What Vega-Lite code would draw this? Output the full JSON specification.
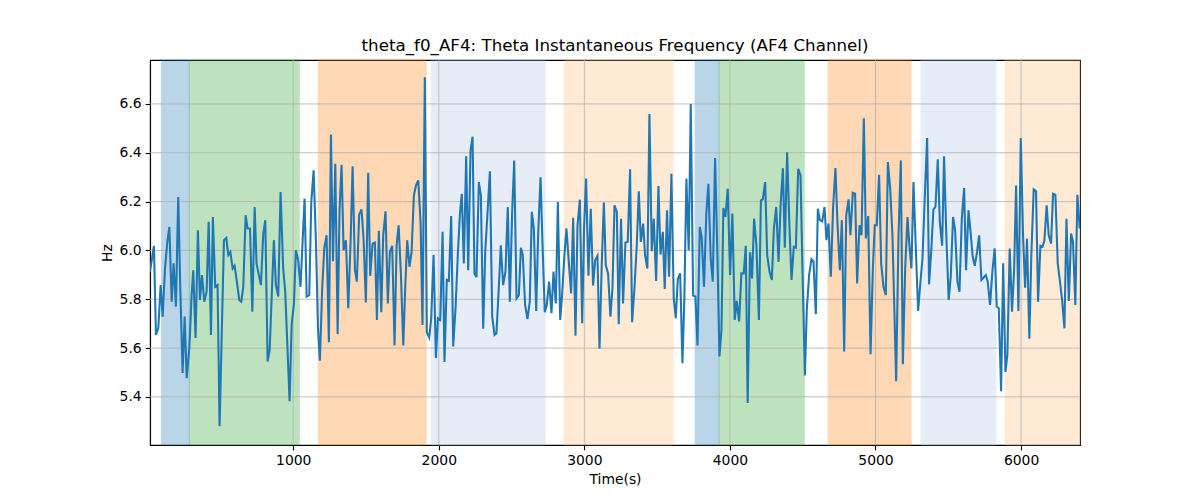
{
  "$schema": "https://vega.github.io/schema/vega-lite/v6.json",
  "width": 930,
  "height": 385,
  "autosize": {"type": "none"},
  "padding": {"left": 150, "top": 60, "right": 120, "bottom": 55},
  "background": "white",
  "title": {"text": "theta_f0_AF4: Theta Instantaneous Frequency (AF4 Channel)", "font": "DejaVu Sans", "fontSize": 16.7, "fontWeight": "normal", "color": "black", "offset": -8, "baseline": "alphabetic"},
  "datasets": {
    "spans": [
      {"start": 94, "end": 286, "kind": "blue"},
      {"start": 286, "end": 1041, "kind": "green"},
      {"start": 1172, "end": 1913, "kind": "orange"},
      {"start": 1948, "end": 2731, "kind": "lightblue"},
      {"start": 2861, "end": 3610, "kind": "lightorange"},
      {"start": 3761, "end": 3926, "kind": "blue"},
      {"start": 3926, "end": 4510, "kind": "green"},
      {"start": 4674, "end": 5244, "kind": "orange"},
      {"start": 5313, "end": 5828, "kind": "lightblue"},
      {"start": 5890, "end": 6405, "kind": "lightorange"}
    ],
    "xticks": [{"t": 1000}, {"t": 2000}, {"t": 3000}, {"t": 4000}, {"t": 5000}, {"t": 6000}],
    "yticks": [{"v": 5.4}, {"v": 5.6}, {"v": 5.8}, {"v": 6.0}, {"v": 6.2}, {"v": 6.4}, {"v": 6.6}],
    "series": [
      {"t":16,"v":5.913},{"t":43,"v":6.019},{"t":57,"v":5.654},{"t":73,"v":5.681},{"t":89,"v":5.858},{"t":103,"v":5.729},{"t":119,"v":5.926},{"t":135,"v":6.035},{"t":149,"v":6.096},{"t":165,"v":5.790},{"t":178,"v":5.947},{"t":194,"v":5.770},{"t":210,"v":6.219},{"t":224,"v":5.845},{"t":240,"v":5.498},{"t":254,"v":5.729},{"t":268,"v":5.477},{"t":286,"v":5.600},{"t":302,"v":5.817},{"t":313,"v":5.919},{"t":329,"v":5.641},{"t":345,"v":6.083},{"t":359,"v":5.797},{"t":373,"v":5.899},{"t":389,"v":5.790},{"t":405,"v":5.831},{"t":419,"v":6.117},{"t":435,"v":5.654},{"t":448,"v":6.137},{"t":464,"v":5.851},{"t":480,"v":5.858},{"t":494,"v":5.280},{"t":524,"v":6.042},{"t":540,"v":6.051},{"t":554,"v":5.981},{"t":568,"v":5.994},{"t":584,"v":5.926},{"t":597,"v":5.937},{"t":613,"v":5.872},{"t":629,"v":5.797},{"t":643,"v":5.790},{"t":657,"v":5.851},{"t":673,"v":6.144},{"t":686,"v":6.090},{"t":703,"v":6.090},{"t":719,"v":5.749},{"t":735,"v":6.178},{"t":748,"v":5.947},{"t":764,"v":5.899},{"t":778,"v":5.858},{"t":794,"v":6.069},{"t":808,"v":6.124},{"t":824,"v":5.545},{"t":838,"v":5.593},{"t":867,"v":6.042},{"t":881,"v":5.858},{"t":897,"v":5.811},{"t":913,"v":6.239},{"t":931,"v":5.926},{"t":945,"v":5.831},{"t":975,"v":5.382},{"t":989,"v":5.695},{"t":1005,"v":5.783},{"t":1018,"v":6.001},{"t":1034,"v":5.960},{"t":1050,"v":5.851},{"t":1078,"v":6.212},{"t":1092,"v":5.811},{"t":1110,"v":5.817},
      {"t":1124,"v":6.198},{"t":1140,"v":6.328},{"t":1156,"v":6.035},{"t":1170,"v":5.681},{"t":1183,"v":5.548},{"t":1199,"v":5.845},{"t":1213,"v":6.008},{"t":1229,"v":6.062},{"t":1245,"v":5.624},{"t":1259,"v":6.475},{"t":1273,"v":5.956},{"t":1289,"v":6.355},{"t":1305,"v":5.657},{"t":1318,"v":6.164},{"t":1332,"v":6.351},{"t":1346,"v":6.001},{"t":1362,"v":6.042},{"t":1378,"v":5.763},{"t":1394,"v":6.035},{"t":1408,"v":6.345},{"t":1424,"v":5.919},{"t":1437,"v":5.872},{"t":1453,"v":6.147},{"t":1469,"v":6.168},{"t":1483,"v":6.049},{"t":1499,"v":5.787},{"t":1515,"v":6.318},{"t":1529,"v":5.896},{"t":1545,"v":6.028},{"t":1561,"v":6.032},{"t":1575,"v":5.715},{"t":1588,"v":6.080},{"t":1605,"v":5.747},{"t":1618,"v":6.062},{"t":1634,"v":6.160},{"t":1650,"v":5.783},{"t":1664,"v":5.994},{"t":1680,"v":6.019},{"t":1696,"v":5.611},{"t":1710,"v":6.021},{"t":1724,"v":6.103},{"t":1740,"v":5.899},{"t":1756,"v":5.611},{"t":1769,"v":5.845},{"t":1783,"v":6.042},{"t":1799,"v":5.933},{"t":1813,"v":5.994},{"t":1829,"v":6.226},{"t":1843,"v":6.266},{"t":1859,"v":6.287},{"t":1875,"v":6.110},{"t":1888,"v":5.695},{"t":1904,"v":6.709},{"t":1918,"v":5.665},{"t":1934,"v":5.643},{"t":1948,"v":5.722},{"t":1964,"v":5.981},{"t":1980,"v":5.559},{"t":1994,"v":5.722},{"t":2010,"v":5.715},{"t":2026,"v":6.076},{"t":2039,"v":5.543},{"t":2055,"v":5.879},{"t":2069,"v":5.875},{"t":2085,"v":6.141},{"t":2099,"v":5.607},
      {"t":2115,"v":5.763},{"t":2131,"v":5.987},{"t":2145,"v":6.147},{"t":2158,"v":6.232},{"t":2172,"v":5.947},{"t":2188,"v":6.386},{"t":2202,"v":5.919},{"t":2218,"v":6.409},{"t":2232,"v":6.466},{"t":2245,"v":5.906},{"t":2259,"v":5.890},{"t":2275,"v":6.280},{"t":2289,"v":6.226},{"t":2305,"v":5.679},{"t":2319,"v":5.994},{"t":2335,"v":6.158},{"t":2351,"v":6.324},{"t":2367,"v":5.729},{"t":2383,"v":5.654},{"t":2396,"v":5.661},{"t":2412,"v":5.845},{"t":2426,"v":6.021},{"t":2442,"v":5.858},{"t":2458,"v":5.913},{"t":2474,"v":6.178},{"t":2488,"v":5.790},{"t":2504,"v":6.158},{"t":2518,"v":6.368},{"t":2534,"v":5.804},{"t":2550,"v":5.817},{"t":2564,"v":6.011},{"t":2577,"v":5.981},{"t":2593,"v":5.777},{"t":2609,"v":5.719},{"t":2625,"v":5.790},{"t":2639,"v":6.158},{"t":2653,"v":6.090},{"t":2669,"v":5.752},{"t":2683,"v":6.076},{"t":2699,"v":6.300},{"t":2712,"v":6.035},{"t":2728,"v":5.747},{"t":2742,"v":5.777},{"t":2758,"v":5.872},{"t":2774,"v":5.743},{"t":2788,"v":5.913},{"t":2804,"v":5.783},{"t":2818,"v":6.198},{"t":2834,"v":5.715},{"t":2847,"v":5.817},{"t":2863,"v":5.981},{"t":2877,"v":6.090},{"t":2893,"v":5.953},{"t":2909,"v":5.824},{"t":2923,"v":6.134},{"t":2939,"v":5.651},{"t":2953,"v":6.103},{"t":2969,"v":6.208},{"t":2985,"v":5.702},{"t":2998,"v":6.090},{"t":3012,"v":6.294},{"t":3028,"v":5.896},{"t":3044,"v":6.171},{"t":3060,"v":5.856},{"t":3074,"v":5.960},{"t":3090,"v":5.978},{"t":3104,"v":5.597},{"t":3120,"v":5.953},{"t":3134,"v":6.196},{"t":3147,"v":5.940},
      {"t":3163,"v":5.906},{"t":3179,"v":5.729},{"t":3193,"v":5.845},{"t":3207,"v":6.185},{"t":3223,"v":6.158},{"t":3236,"v":5.698},{"t":3252,"v":6.130},{"t":3266,"v":5.783},{"t":3282,"v":6.032},{"t":3298,"v":6.035},{"t":3314,"v":6.332},{"t":3328,"v":5.706},{"t":3344,"v":5.845},{"t":3360,"v":6.021},{"t":3374,"v":6.242},{"t":3388,"v":6.035},{"t":3404,"v":6.110},{"t":3417,"v":5.981},{"t":3433,"v":5.926},{"t":3447,"v":6.559},{"t":3463,"v":5.997},{"t":3477,"v":6.130},{"t":3493,"v":5.875},{"t":3509,"v":6.264},{"t":3523,"v":5.983},{"t":3539,"v":6.076},{"t":3552,"v":5.842},{"t":3568,"v":6.164},{"t":3582,"v":5.892},{"t":3598,"v":6.314},{"t":3614,"v":5.804},{"t":3628,"v":5.722},{"t":3642,"v":5.883},{"t":3658,"v":5.906},{"t":3674,"v":5.538},{"t":3687,"v":5.804},{"t":3701,"v":6.294},{"t":3717,"v":6.001},{"t":3731,"v":6.600},{"t":3747,"v":5.815},{"t":3763,"v":5.811},{"t":3777,"v":5.611},{"t":3793,"v":6.096},{"t":3806,"v":6.055},{"t":3822,"v":5.851},{"t":3838,"v":6.151},{"t":3852,"v":6.273},{"t":3868,"v":5.967},{"t":3882,"v":5.872},{"t":3898,"v":6.378},{"t":3914,"v":5.981},{"t":3928,"v":5.566},{"t":3942,"v":5.675},{"t":3955,"v":6.174},{"t":3969,"v":6.137},{"t":3985,"v":6.253},{"t":4001,"v":5.899},{"t":4017,"v":6.151},{"t":4033,"v":5.715},{"t":4047,"v":5.793},{"t":4063,"v":5.709},{"t":4079,"v":5.906},{"t":4095,"v":5.906},{"t":4109,"v":6.019},{"t":4122,"v":5.375},{"t":4138,"v":5.992},{"t":4152,"v":5.885},{"t":4166,"v":6.130},{"t":4182,"v":6.021},
      {"t":4199,"v":5.715},{"t":4213,"v":6.205},{"t":4226,"v":6.209},{"t":4242,"v":6.280},{"t":4256,"v":5.981},{"t":4272,"v":5.913},{"t":4288,"v":5.879},{"t":4302,"v":6.090},{"t":4318,"v":6.178},{"t":4334,"v":5.953},{"t":4348,"v":6.185},{"t":4364,"v":6.337},{"t":4377,"v":6.011},{"t":4393,"v":6.402},{"t":4409,"v":6.096},{"t":4423,"v":5.879},{"t":4439,"v":6.015},{"t":4453,"v":6.011},{"t":4469,"v":6.334},{"t":4485,"v":6.307},{"t":4499,"v":5.906},{"t":4515,"v":5.488},{"t":4528,"v":5.756},{"t":4544,"v":5.899},{"t":4560,"v":5.964},{"t":4574,"v":5.956},{"t":4590,"v":5.739},{"t":4604,"v":6.171},{"t":4618,"v":6.124},{"t":4634,"v":6.119},{"t":4650,"v":6.178},{"t":4663,"v":6.042},{"t":4677,"v":6.110},{"t":4693,"v":5.892},{"t":4709,"v":6.178},{"t":4725,"v":6.337},{"t":4739,"v":6.110},{"t":4755,"v":5.919},{"t":4769,"v":6.124},{"t":4785,"v":5.586},{"t":4799,"v":6.144},{"t":4815,"v":6.209},{"t":4828,"v":6.062},{"t":4844,"v":6.236},{"t":4860,"v":6.232},{"t":4874,"v":5.865},{"t":4890,"v":6.103},{"t":4904,"v":6.062},{"t":4920,"v":6.541},{"t":4934,"v":6.049},{"t":4950,"v":6.141},{"t":4966,"v":5.575},{"t":4982,"v":5.926},{"t":4995,"v":6.103},{"t":5009,"v":6.103},{"t":5025,"v":6.310},{"t":5039,"v":5.947},{"t":5055,"v":5.851},{"t":5071,"v":5.817},{"t":5085,"v":6.362},{"t":5101,"v":6.253},{"t":5117,"v":6.055},{"t":5142,"v":5.464},{"t":5158,"v":6.055},{"t":5174,"v":6.368},{"t":5188,"v":5.534},{"t":5204,"v":5.926},{"t":5220,"v":6.137},{"t":5231,"v":6.035},
      {"t":5247,"v":5.926},{"t":5261,"v":6.280},{"t":5277,"v":6.008},{"t":5293,"v":5.752},{"t":5309,"v":5.872},{"t":5323,"v":5.967},{"t":5339,"v":6.226},{"t":5355,"v":6.460},{"t":5368,"v":5.861},{"t":5384,"v":6.008},{"t":5398,"v":6.168},{"t":5412,"v":6.178},{"t":5428,"v":6.373},{"t":5442,"v":6.117},{"t":5458,"v":6.019},{"t":5471,"v":6.386},{"t":5487,"v":6.055},{"t":5503,"v":5.797},{"t":5517,"v":5.892},{"t":5533,"v":6.137},{"t":5547,"v":6.083},{"t":5563,"v":5.872},{"t":5577,"v":5.831},{"t":5593,"v":6.130},{"t":5609,"v":6.256},{"t":5622,"v":5.919},{"t":5639,"v":6.164},{"t":5652,"v":6.083},{"t":5668,"v":5.974},{"t":5682,"v":5.937},{"t":5698,"v":5.994},{"t":5712,"v":6.062},{"t":5728,"v":5.879},{"t":5742,"v":5.888},{"t":5758,"v":5.899},{"t":5771,"v":5.872},{"t":5787,"v":5.777},{"t":5803,"v":5.913},{"t":5819,"v":6.008},{"t":5833,"v":5.770},{"t":5847,"v":5.763},{"t":5863,"v":5.423},{"t":5877,"v":5.947},{"t":5893,"v":5.502},{"t":5906,"v":5.573},{"t":5922,"v":6.008},{"t":5938,"v":5.749},{"t":5952,"v":5.913},{"t":5966,"v":6.266},{"t":5982,"v":5.752},{"t":5998,"v":6.460},{"t":6014,"v":6.055},{"t":6028,"v":5.847},{"t":6041,"v":6.049},{"t":6057,"v":5.638},{"t":6071,"v":5.987},{"t":6087,"v":6.250},{"t":6103,"v":6.242},{"t":6117,"v":5.790},{"t":6133,"v":6.019},{"t":6147,"v":6.015},{"t":6160,"v":6.038},{"t":6176,"v":6.185},{"t":6190,"v":6.062},{"t":6206,"v":6.028},{"t":6220,"v":6.232},{"t":6236,"v":6.228},{"t":6252,"v":5.947},{"t":6266,"v":5.879},{"t":6282,"v":5.797},{"t":6298,"v":5.681},{"t":6312,"v":6.130},{"t":6328,"v":5.793},{"t":6344,"v":6.069},{"t":6357,"v":6.035},{"t":6373,"v":5.777},{"t":6387,"v":6.228},{"t":6403,"v":6.090}
    ]
  },
  "layer": [
    {
      "data": {"name": "spans"},
      "mark": {"type": "rect", "opacity": 0.3, "strokeWidth": 1},
      "encoding": {
        "x": {"field": "start", "type": "quantitative", "scale": {"domain": [16, 6405], "nice": false, "zero": false},
              "axis": {"title": "Time(s)", "values": [1000, 2000, 3000, 4000, 5000, 6000], "format": "d", "grid": false}},
        "x2": {"field": "end"},
        "color": {"field": "kind", "type": "nominal", "legend": null,
                  "scale": {"domain": ["blue", "green", "orange", "lightblue", "lightorange"], "range": ["#1f77b4", "#2ca02c", "#ff7f0e", "#aec7e8", "#ffbb78"]}},
        "stroke": {"field": "kind", "type": "nominal", "legend": null,
                  "scale": {"domain": ["blue", "green", "orange", "lightblue", "lightorange"], "range": ["#1f77b4", "#2ca02c", "#ff7f0e", "#aec7e8", "#ffbb78"]}}
      }
    },
    {
      "data": {"name": "xticks"},
      "mark": {"type": "rule", "color": "#b0b0b0", "strokeWidth": 0.8},
      "encoding": {"x": {"field": "t", "type": "quantitative"}}
    },
    {
      "data": {"name": "yticks"},
      "mark": {"type": "rule", "color": "#b0b0b0", "strokeWidth": 0.8},
      "encoding": {"y": {"field": "v", "type": "quantitative"}}
    },
    {
      "data": {"name": "series"},
      "mark": {"type": "line", "color": "#1f77b4", "strokeWidth": 2.08, "clip": true},
      "encoding": {
        "x": {"field": "t", "type": "quantitative"},
        "y": {"field": "v", "type": "quantitative", "scale": {"domain": [5.203, 6.78], "nice": false, "zero": false},
              "axis": {"title": "Hz", "values": [5.4, 5.6, 5.8, 6.0, 6.2, 6.4, 6.6], "format": ".1f", "grid": false}}
      }
    }
  ],
  "config": {
    "view": {"stroke": "black", "strokeWidth": 1.1},
    "axis": {
      "labelFont": "DejaVu Sans", "labelFontSize": 13.9, "labelColor": "black",
      "titleFont": "DejaVu Sans", "titleFontSize": 13.9, "titleFontWeight": "normal", "titleColor": "black",
      "domainColor": "black", "domainWidth": 1.1, "tickColor": "black", "tickSize": 4.86, "tickWidth": 1.1,
      "labelPadding": 4, "titlePadding": 5
    }
  }
}
